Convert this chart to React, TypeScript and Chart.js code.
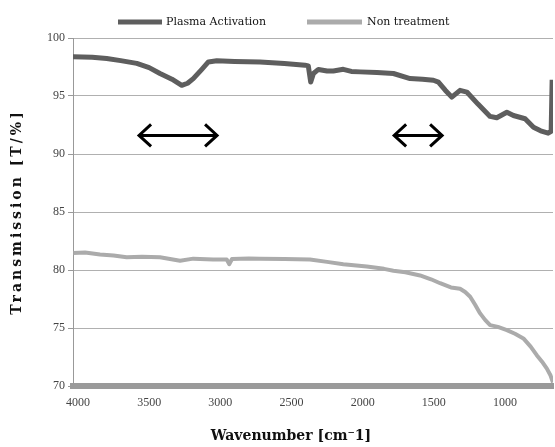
import { useEffect, useRef } from "react";
import { Chart, registerables } from "chart.js";

Chart.register(...registerables);

const seriesNames = ["Plasma Activation", "Non treatment"];
const seriesColors = ["#5e5e5e", "#ababab"];

const plasmaWavenumbers = [4035, 3900, 3798, 3700, 3587, 3500, 3424, 3340, 3271, 3230, 3190, 3130, 3084, 3025, 2900, 2721, 2550, 2405, 2382, 2365, 2346, 2311, 2250, 2206, 2136, 2080, 2018, 1900, 1784, 1667, 1580, 1503, 1468, 1420, 1374, 1316, 1268, 1190, 1105, 1058, 987, 941, 859, 800, 750, 697, 676, 669];
const plasmaValues = [98.38, 98.35, 98.24, 98.05, 97.81, 97.45, 96.94, 96.45, 95.92, 96.1, 96.5, 97.3, 97.94, 98.03, 97.98, 97.94, 97.8, 97.66, 97.6, 96.2, 96.94, 97.29, 97.15, 97.16, 97.3, 97.12, 97.08, 97.02, 96.94, 96.5, 96.45, 96.36, 96.2, 95.5, 94.9, 95.49, 95.34, 94.3, 93.24, 93.12, 93.6, 93.32, 93.04, 92.3, 92.0, 91.8, 91.95, 96.4];

const nonWavenumbers = [4033, 3950, 3845, 3750, 3658, 3550, 3424, 3283, 3190, 3050, 2955, 2937, 2918, 2800, 2721, 2550, 2370, 2250, 2136, 1971, 1850, 1784, 1700, 1597, 1520, 1456, 1380, 1316, 1280, 1245, 1210, 1175, 1140, 1105, 1050, 987, 930, 871, 820, 777, 740, 706, 680, 663];
const nonValues = [81.47, 81.5, 81.33, 81.25, 81.1, 81.15, 81.1, 80.8, 80.98, 80.9, 80.9, 80.5, 80.95, 81.0, 80.98, 80.95, 80.9, 80.7, 80.5, 80.3, 80.1, 79.94, 79.8, 79.53, 79.2, 78.86, 78.5, 78.38, 78.1, 77.7, 77.0, 76.26, 75.7, 75.25, 75.1, 74.82, 74.5, 74.1, 73.4, 72.66, 72.1, 71.5, 70.9, 70.3];

const xTickValues = [4000, 3500, 3000, 2500, 2000, 1500, 1000];
const xMin = 663;
const xMax = 4035;
const yMin = 70;
const yMax = 100;
const yStep = 5;

const arrowStarts = [3578, 1786];
const arrowEnds = [3016, 1435];
const arrowLevel = 91.6;

const xTitle = "Wavenumber [cm\u207B1]";
const yTitle = "Transmission [T/%]";

const labelFont = "'Liberation Serif', serif";
const titleFont = "'DejaVu Serif', serif";

const overlayPlugin = {
  id: "overlay",
  afterDraw(chart: any) {
    const ctx = chart.ctx;
    const xs = chart.scales.x;
    const ys = chart.scales.y;
    const area = chart.chartArea;
    ctx.save();
    // arrows
    ctx.strokeStyle = "#000";
    ctx.lineWidth = 3;
    ctx.lineCap = "butt";
    ctx.lineJoin = "miter";
    for (let i = 0; i < arrowStarts.length; i++) {
      const x1 = xs.getPixelForValue(arrowStarts[i]);
      const x2 = xs.getPixelForValue(arrowEnds[i]);
      const y = ys.getPixelForValue(arrowLevel);
      const hl = 13;
      const hh = 11;
      ctx.beginPath();
      ctx.moveTo(x1 + 1, y);
      ctx.lineTo(x2 - 1, y);
      ctx.stroke();
      ctx.beginPath();
      ctx.moveTo(x1 + hl, y - hh);
      ctx.lineTo(x1 + 1, y);
      ctx.lineTo(x1 + hl, y + hh);
      ctx.stroke();
      ctx.beginPath();
      ctx.moveTo(x2 - hl, y - hh);
      ctx.lineTo(x2 - 1, y);
      ctx.lineTo(x2 - hl, y + hh);
      ctx.stroke();
    }
    // legend
    const legendY = 22;
    const legendItems = [
      { lx1: 118, lx2: 162, tx: 166 },
      { lx1: 307, lx2: 362, tx: 367 },
    ];
    ctx.font = `11px ${titleFont}`;
    ctx.textBaseline = "middle";
    ctx.textAlign = "left";
    chart.data.datasets.forEach((ds: any, i: number) => {
      const it = legendItems[i];
      ctx.strokeStyle = ds.borderColor;
      ctx.lineWidth = 5;
      ctx.beginPath();
      ctx.moveTo(it.lx1, legendY);
      ctx.lineTo(it.lx2, legendY);
      ctx.stroke();
      ctx.fillStyle = "#111";
      ctx.fillText(ds.label, it.tx, legendY);
    });
    // axis titles
    ctx.fillStyle = "#111";
    ctx.font = `bold 14px ${titleFont}`;
    ctx.textAlign = "center";
    ctx.textBaseline = "middle";
    ctx.fillText(xTitle, (area.left + area.right) / 2 - 22, 436);
    ctx.translate(17, (area.top + area.bottom) / 2);
    ctx.rotate(-Math.PI / 2);
    (ctx as any).letterSpacing = "3px";
    ctx.fillText(yTitle, 0, 0);
    ctx.restore();
  },
};

export default function App() {
  const ref = useRef<HTMLCanvasElement>(null);
  useEffect(() => {
    if (!ref.current) return;
    const chart = new Chart(ref.current, {
      type: "line",
      data: {
        datasets: [
          {
            label: seriesNames[0],
            data: plasmaWavenumbers.map((x, i) => ({ x, y: plasmaValues[i] })),
            borderColor: seriesColors[0],
            backgroundColor: seriesColors[0],
            borderWidth: 5,
            pointRadius: 0,
            tension: 0,
            borderJoinStyle: "round",
          },
          {
            label: seriesNames[1],
            data: nonWavenumbers.map((x, i) => ({ x, y: nonValues[i] })),
            borderColor: seriesColors[1],
            backgroundColor: seriesColors[1],
            borderWidth: 4,
            pointRadius: 0,
            tension: 0,
            borderJoinStyle: "round",
          },
        ],
      },
      options: {
        animation: false,
        responsive: true,
        maintainAspectRatio: false,
        layout: { padding: { top: 38, right: 2, left: 0, bottom: 0 } },
        plugins: { legend: { display: false }, tooltip: { enabled: false } },
        scales: {
          x: {
            type: "linear",
            reverse: true,
            min: xMin,
            max: xMax,
            afterBuildTicks: (s: any) => {
              s.ticks = xTickValues.map((v) => ({ value: v }));
            },
            afterFit: (s: any) => {
              s.height = 61;
            },
            grid: { display: false, drawTicks: false },
            border: { display: true, color: "#9a9a9a", width: 6 },
            ticks: {
              padding: 10,
              maxRotation: 0,
              autoSkip: false,
              color: "#444",
              font: { family: labelFont, size: 12 },
              callback: (v: any) => String(v),
            },
          },
          y: {
            min: yMin,
            max: yMax,
            afterFit: (s: any) => {
              s.width = 73;
            },
            grid: { color: "#b0b0b0", lineWidth: 1, tickLength: 5, tickColor: "#999" },
            border: { display: true, color: "#999", width: 1 },
            ticks: {
              stepSize: yStep,
              padding: 3,
              color: "#444",
              font: { family: labelFont, size: 12 },
              callback: (v: any) => String(v),
            },
          },
        },
      },
      plugins: [overlayPlugin],
    } as any);
    return () => chart.destroy();
  }, []);
  return (
    <div style={{ position: "fixed", left: 0, top: 0, width: 555, height: 447, background: "#fff" }}>
      <canvas ref={ref} />
    </div>
  );
}
